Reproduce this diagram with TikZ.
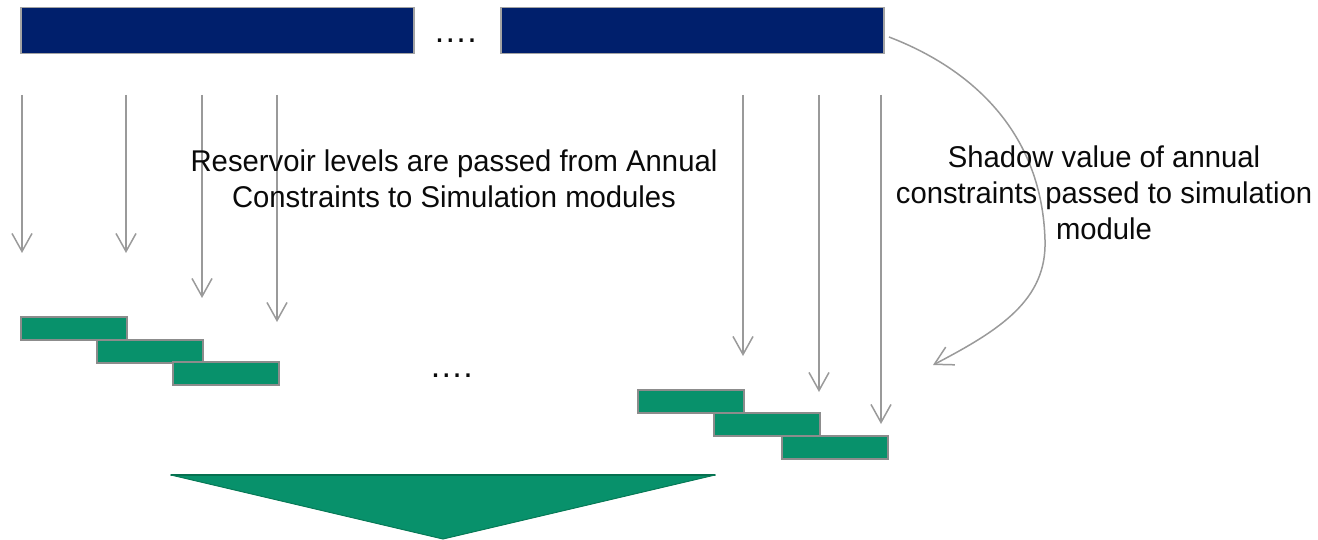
\documentclass[tikz,border=0pt]{standalone}
\usepackage{fontspec}
\setmainfont{Liberation Sans}
\newfontfamily\lblfont[FakeStretch=0.975]{Liberation Sans}
\usetikzlibrary{arrows.meta}
\definecolor{navy}{HTML}{001F6C}
\definecolor{modgreen}{HTML}{08916B}
\definecolor{edgegreen}{HTML}{06704F}
\definecolor{linegray}{HTML}{9A9A9A}
\definecolor{boxgray}{HTML}{8C8C8C}
\definecolor{txt}{HTML}{0A0A0A}
\begin{document}
\begin{tikzpicture}[x=1pt,y=-1pt,
  bar/.style={draw=boxgray!80, line width=1.5pt, fill=navy, inner sep=0pt, anchor=north west, minimum height=46pt},
  gbox/.style={draw=boxgray, line width=2pt, fill=modgreen, inner sep=0pt, anchor=north west, minimum width=106pt, minimum height=23pt},
  arr/.style={draw=linegray, line width=1.5pt, -{Straight Barb[length=18pt,width=20pt,line width=1.5pt]}},
  lbl/.style={text=txt, align=center, font=\lblfont\fontsize{30}{36}\selectfont, inner sep=0pt},
  dotlbl/.style={text=txt, font=\fontsize{34}{36}\selectfont, inner sep=0pt, anchor=base}]
\useasboundingbox (0,0) rectangle (1318,540);

% top bars
\node[bar, minimum width=393pt] (b1) at (20,7) {};
\node[bar, minimum width=383pt] (b2) at (500,7) {};
\node[dotlbl] (dots1) at (455,43) {….};

% left green boxes
\node[gbox] (g1) at (20,316) {};
\node[gbox] (g2) at (96,338.5) {};
\node[gbox] (g3) at (172,361) {};
% right green boxes
\node[gbox] (g4) at (637,389) {};
\node[gbox] (g5) at (713,412) {};
\node[gbox] (g6) at (781,435) {};
\node[dotlbl] (dots2) at (451,377) {….};

% down arrows
\coordinate (s1) at (22,95);  \coordinate (e1) at (22,253);
\coordinate (s2) at (126,95); \coordinate (e2) at (126,253);
\coordinate (s3) at (202,95); \coordinate (e3) at (202,298);
\coordinate (s4) at (277,95); \coordinate (e4) at (277,322);
\coordinate (s5) at (743,95); \coordinate (e5) at (743,356);
\coordinate (s6) at (819,95); \coordinate (e6) at (819,392);
\coordinate (s7) at (881,95); \coordinate (e7) at (881,424);
\foreach \i in {1,...,7} {\draw[arr] (s\i) -- (e\i);}

% curved arrow
\coordinate (cs) at (889,37);
\coordinate (cm) at (1045,240);
\coordinate (ce) at (933,365);
\draw[arr] (cs) .. controls (975,70) and (1042,135) .. (cm) .. controls (1047,300) and (1000,330) .. (ce);

% labels
\node[lbl] (t1) at (454,179) {Reservoir levels are passed from Annual\\Constraints to Simulation modules};
\node[lbl] (t2) at (1104,193) {Shadow value of annual\\constraints passed to simulation\\module};

% big triangle
\coordinate (tl) at (171,475);
\coordinate (tr) at (715,475);
\coordinate (tt) at (443,539);
\fill[modgreen] (tl) -- (tr) -- (tt) -- cycle;
\draw[edgegreen, line width=1.5pt, line cap=round] (tl) -- (tr);
\draw[edgegreen!70!modgreen, line width=1pt] (tr) -- (tt) -- (tl);
\end{tikzpicture}
\end{document}
